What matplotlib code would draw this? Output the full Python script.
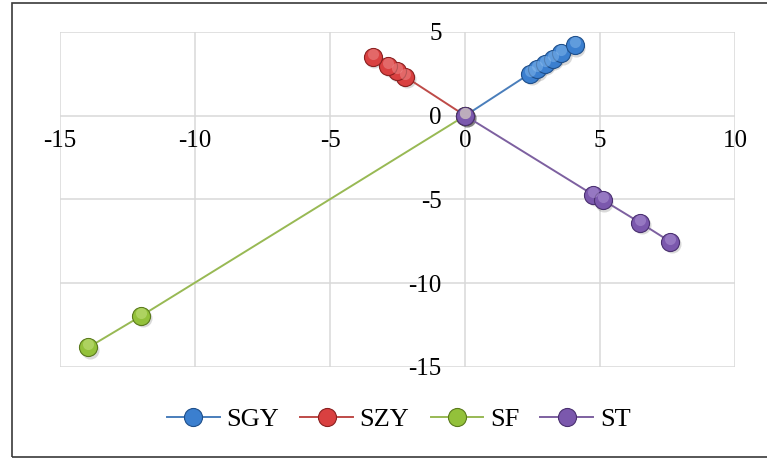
import matplotlib
matplotlib.use("Agg")
import matplotlib.pyplot as plt
from matplotlib.transforms import offset_copy
from matplotlib.patches import Rectangle

# Data (every series starts at the origin)
sgy_x = [0, 2.4, 2.65, 2.95, 3.25, 3.55, 4.05]
sgy_y = [0, 2.52, 2.78, 3.1, 3.4, 3.72, 4.2]
szy_x = [0, -2.22, -2.53, -2.84, -3.42]
szy_y = [0, 2.33, 2.69, 2.97, 3.53]
sf_x = [0, -12.0, -13.95]
sf_y = [0, -11.97, -13.85]
st_x = [0, 4.75, 5.1, 6.48, 7.59]
st_y = [0, -4.74, -5.04, -6.4, -7.53]

SERIES = [
    ("SGY", sgy_x, sgy_y, "#4a7ebb", "#3b7fcf", "#1f4f8a", "#8fc0f0"),
    ("SZY", szy_x, szy_y, "#be4b48", "#d94040", "#8a2020", "#f09a9a"),
    ("SF", sf_x, sf_y, "#98b954", "#93c13a", "#5a7a1c", "#cfe890"),
    ("ST", st_x, st_y, "#7d60a0", "#7b58ad", "#4a3070", "#b9a0dc"),
]

x_ticks = [-15, -10, -5, 0, 5, 10]
y_ticks = [-15, -10, -5, 0, 5]

FONT = "Liberation Serif"
plt.rcParams["axes.unicode_minus"] = False

fig = plt.figure(figsize=(7.67, 4.59), dpi=100)
fig.patches.append(Rectangle((12 / 767, 2 / 459), 1.0, 454.5 / 459, transform=fig.transFigure,
                             fill=False, edgecolor="#3a3a3a", linewidth=1.2))
ax = fig.add_axes([60 / 767, 1 - 366.7 / 459, 675.3 / 767, 334.7 / 459])

ax.set_xlim(-15, 10)
ax.set_ylim(-15, 5)
ax.set_xticks(x_ticks)
ax.set_yticks(y_ticks)
ax.grid(True, color="#d9d9d9", linewidth=1.1)
ax.set_axisbelow(True)
for side in ["top", "right", "bottom", "left"]:
    ax.spines[side].set_visible(False)
ax.spines["bottom"].set_position(("data", 0))
ax.spines["left"].set_position(("data", 0))
ax.tick_params(axis="both", length=0, labelsize=18)
ax.tick_params(axis="x", pad=10)
ax.tick_params(axis="y", pad=17)
for lab in ax.get_xticklabels() + ax.get_yticklabels():
    lab.set_fontfamily(FONT)

shadow = offset_copy(ax.transData, fig=fig, x=1.5, y=-2.5, units="dots")
shine = offset_copy(ax.transData, fig=fig, x=0, y=3, units="dots")

handles = []
for name, xs, ys, line_c, face_c, edge_c, light_c in SERIES:
    ax.plot(xs, ys, "o", ms=13, color="#000000", alpha=0.15, mec="none", transform=shadow, zorder=3)
    h, = ax.plot(xs, ys, "-o", color=line_c, lw=1.4, ms=13, mfc=face_c, mec=edge_c, mew=0.8,
                 label=name, zorder=4)
    ax.plot(xs, ys, "o", ms=8, color=light_c, alpha=0.45, mec="none", transform=shine, zorder=5)
    handles.append(h)

leg = fig.legend(handles=handles, loc="center", bbox_to_anchor=(0.52, 0.087), ncol=4,
                 frameon=False, prop={"family": FONT, "size": 19}, handlelength=2.0,
                 handletextpad=0.25, columnspacing=0.8, borderaxespad=0)

fig.savefig("out.png", dpi=100)
